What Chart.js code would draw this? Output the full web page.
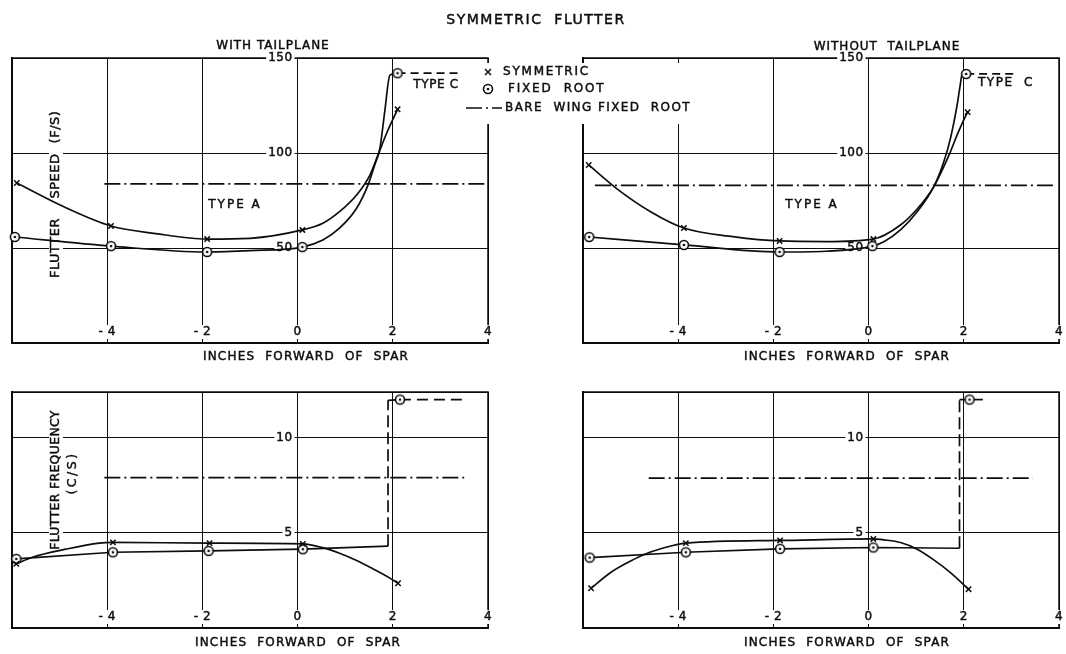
<!DOCTYPE html>
<html>
<head>
<meta charset="utf-8">
<script src="https://cdn.jsdelivr.net/npm/chart.js@4"></script>
<style>
  body { margin: 0; background: #fff; }
  #sheet { position: relative; width: 1066px; height: 654px; }
  #sheet canvas { position: absolute; left: 0; top: 0; }
</style>
</head>
<body>
<div id="sheet">
  <canvas id="speedWith" width="1066" height="654"></canvas>
  <canvas id="speedWithout" width="1066" height="654"></canvas>
  <canvas id="freqWith" width="1066" height="654"></canvas>
  <canvas id="freqWithout" width="1066" height="654"></canvas>
</div>
<script>
// tick labels
const xTickValues = [-4, -2, 0, 2, 4];
const speedTickValues = [50, 100, 150];
const freqTickValues = [5, 10];

// flutter speed (f/s), with tailplane
const spWithSymX = [-5.9, -3.92, -1.9, 0.1, 2.1];
const spWithSymV = [84.2, 61.6, 54.7, 59.5, 123];
const spWithSymCurveX = [-5.9, -4.92, -3.92, -2.98, -1.9, -1.0, 0.1, 0.53, 0.88, 1.24, 1.52, 1.69, 1.87, 2.1];
const spWithSymCurveV = [84.2, 71.8, 61.6, 57.6, 54.7, 55.1, 59.5, 63, 69.1, 77.9, 88.4, 99, 110.4, 123];
const spWithRootX = [-5.94, -3.92, -1.9, 0.1, 2.1];
const spWithRootV = [55.8, 51, 47.9, 50.5, 142];
const spWithRootCurveX = [-5.94, -3.92, -1.9, -1.0, 0.1, 0.53, 0.88, 1.24, 1.48, 1.62, 1.73, 1.83, 1.94, 2.1];
const spWithRootCurveV = [55.8, 51, 47.9, 48.6, 50.5, 54.2, 60.4, 70.9, 83.2, 93.7, 102.5, 121.7, 141, 142];
const spWithTypeCX = [2.1, 3.62];
const spWithTypeCV = [142, 142];
const spWithBareX = [-4.06, 4];
const spWithBareV = [83.7, 83.7];

// flutter speed (f/s), without tailplane
const spNoSymX = [-5.88, -3.88, -1.87, 0.1, 2.08];
const spNoSymV = [93.7, 60.5, 53.7, 54.7, 121.5];
const spNoSymCurveX = [-5.88, -5.3, -4.58, -3.88, -2.85, -1.87, -0.9, 0.1, 0.67, 1.02, 1.37, 1.58, 1.72, 1.86, 2.0, 2.08];
const spNoSymCurveV = [93.7, 81.4, 69.1, 60.5, 56, 53.7, 53.4, 54.7, 62.1, 70.5, 82.3, 92.8, 100.7, 109.5, 117.4, 121.5];
const spNoRootX = [-5.87, -3.88, -1.87, 0.08, 2.05];
const spNoRootV = [55.8, 51.6, 47.9, 51, 141.6];
const spNoRootCurveX = [-5.87, -3.88, -1.87, -0.9, 0.08, 0.32, 0.67, 1.02, 1.37, 1.58, 1.72, 1.86, 1.93, 1.96, 2.05];
const spNoRootCurveV = [55.8, 51.6, 47.9, 48.3, 51, 53.3, 59.5, 69.1, 82.3, 95.4, 107.7, 125.3, 136.7, 141, 141.6];
const spNoTypeCX = [2.05, 3.05];
const spNoTypeCV = [141.6, 141.6];
const spNoBareX = [-5.75, 3.9];
const spNoBareV = [83, 83];

// flutter frequency (c/s), with tailplane
const fqWithSymX = [-5.91, -3.88, -1.85, 0.11, 2.11];
const fqWithSymV = [3.37, 4.5, 4.46, 4.42, 2.35];
const fqWithSymCurveX = [-5.91, -5.57, -4.87, -4.17, -3.88, -1.85, 0.11, 0.53, 0.88, 1.24, 1.59, 1.94, 2.11];
const fqWithSymCurveV = [3.37, 3.72, 4.14, 4.46, 4.5, 4.46, 4.42, 4.22, 3.93, 3.55, 3.1, 2.62, 2.35];
const fqWithRootX = [-5.91, -3.88, -1.87, 0.11, 2.15];
const fqWithRootV = [3.63, 3.98, 4.05, 4.14, 12.0];
const fqWithRootLineX = [-5.91, -3.88, -1.87, 0.11, 1.9];
const fqWithRootLineV = [3.63, 3.98, 4.05, 4.14, 4.3];
const fqWithStepX = [1.9, 1.9];
const fqWithStepV = [4.3, 11.96];
const fqWithJoinX = [1.9, 2.15];
const fqWithJoinV = [11.96, 12.0];
const fqWithTypeCX = [2.15, 3.45];
const fqWithTypeCV = [12.0, 12.0];
const fqWithBareX = [-4.06, 3.5];
const fqWithBareV = [7.9, 7.9];

// flutter frequency (c/s), without tailplane
const fqNoSymX = [-5.83, -3.84, -1.86, 0.1, 2.1];
const fqNoSymV = [2.09, 4.46, 4.6, 4.68, 2.04];
const fqNoSymCurveX = [-5.83, -5.44, -5.09, -4.74, -4.33, -3.84, -1.86, 0.1, 0.32, 0.67, 1.02, 1.37, 1.72, 2.1];
const fqNoSymCurveV = [2.09, 2.88, 3.4, 3.84, 4.19, 4.46, 4.6, 4.68, 4.63, 4.49, 4.14, 3.58, 2.91, 2.04];
const fqNoRootX = [-5.86, -3.84, -1.86, 0.1, 2.12];
const fqNoRootV = [3.7, 3.98, 4.16, 4.23, 12.0];
const fqNoRootLineX = [-5.86, -3.84, -1.86, 0.1, 1.91];
const fqNoRootLineV = [3.7, 3.98, 4.16, 4.23, 4.19];
const fqNoStepX = [1.91, 1.91];
const fqNoStepV = [4.19, 12.0];
const fqNoTailX = [1.91, 2.12, 2.4];
const fqNoTailV = [12.0, 12.0, 12.0];
const fqNoBareX = [-4.62, 3.45];
const fqNoBareV = [7.88, 7.88];

const INK = '#0d0d0d';
const FONT = '"DejaVu Sans", sans-serif';
const PAGE_W = 1066, PAGE_H = 654;
const DASH_DOT = [16, 4, 2, 4];

// small circle with a centre dot, used for the fixed-root points
function makeRing() {
  const c = document.createElement('canvas');
  c.width = c.height = 14;
  const g = c.getContext('2d');
  g.fillStyle = '#fff';
  g.strokeStyle = INK;
  g.lineWidth = 1.6;
  g.beginPath(); g.arc(7, 7, 4.5, 0, Math.PI * 2); g.fill(); g.stroke();
  g.fillStyle = INK;
  g.beginPath(); g.arc(7, 7, 1.3, 0, Math.PI * 2); g.fill();
  return c;
}
const ring = makeRing();

function pts(xs, ys) {
  return xs.map((x, i) => ({ x: x, y: ys[i] }));
}

function crosses(xs, ys) {
  return { data: pts(xs, ys), showLine: false, pointStyle: 'crossRot', pointRadius: 3.8,
           borderColor: INK, pointBorderWidth: 1.5 };
}

function rings(xs, ys) {
  return { data: pts(xs, ys), showLine: false, pointStyle: ring, pointRadius: 6 };
}

function curve(xs, ys) {
  return { data: pts(xs, ys), showLine: true, pointRadius: 0, borderColor: INK, borderWidth: 1.7,
           cubicInterpolationMode: 'monotone' };
}

function straight(xs, ys, dash, width) {
  return { data: pts(xs, ys), showLine: true, pointRadius: 0, borderColor: INK,
           borderWidth: width || 1.7, borderDash: dash || [], tension: 0 };
}

function setText(ctx, size, spacing) {
  ctx.font = size + 'px ' + FONT;
  ctx.letterSpacing = (spacing || 0) + 'px';
  ctx.textBaseline = 'middle';
}

// lettering is thickened a little with a thin stroke, like pen lettering
function boxedText(ctx, text, x, y, align, boxed) {
  ctx.textAlign = align;
  if (boxed) {
    const w = ctx.measureText(text).width;
    const left = align === 'center' ? x - w / 2 : (align === 'right' ? x - w : x);
    ctx.fillStyle = '#fff';
    ctx.fillRect(left - 2, y - 7, w + 4, 14);
  }
  ctx.fillStyle = INK;
  ctx.strokeStyle = INK;
  ctx.lineWidth = 0.45;
  ctx.fillText(text, x, y);
  ctx.strokeText(text, x, y);
}

// frame, tick numbers written on the grid, and the panel's own lettering
function panelText(cfg) {
  return {
    id: 'panelText',
    beforeDatasetsDraw(chart) {
      const { ctx, chartArea: a, scales: { x, y } } = chart;
      ctx.save();
      ctx.strokeStyle = INK;
      ctx.lineWidth = 1.5;
      ctx.strokeRect(a.left, a.top, a.right - a.left, a.bottom - a.top);

      setText(ctx, 12, 0.5);
      xTickValues.forEach(v => {
        const t = v < 0 ? '- ' + Math.abs(v) : String(v);
        boxedText(ctx, t, x.getPixelForValue(v), a.bottom - 11, 'center', true);
      });
      cfg.yTicks.forEach(v => {
        boxedText(ctx, String(v), x.getPixelForValue(0) - 5, y.getPixelForValue(v), 'right', true);
      });

      cfg.notes.forEach(n => {
        setText(ctx, n.size || 12, n.spacing || 0);
        if (n.rotate) {
          ctx.save();
          ctx.translate(n.x, n.y);
          ctx.rotate(-Math.PI / 2);
          boxedText(ctx, n.text, 0, 0, 'center', true);
          ctx.restore();
        } else {
          boxedText(ctx, n.text, n.x, n.y, 'center', n.boxed);
        }
      });
      ctx.restore();
    }
  };
}

// sheet title and the key shared by the speed panels
const sheetText = {
  id: 'sheetText',
  afterDraw(chart) {
    const ctx = chart.ctx;
    ctx.save();
    setText(ctx, 14, 1.5);
    boxedText(ctx, 'SYMMETRIC  FLUTTER', 536, 20, 'center', false);

    ctx.fillStyle = '#fff';
    ctx.fillRect(461, 63, 229, 61);
    ctx.strokeStyle = INK;
    ctx.lineWidth = 1.5;
    ctx.beginPath();
    ctx.moveTo(485, 69); ctx.lineTo(491, 75);
    ctx.moveTo(491, 69); ctx.lineTo(485, 75);
    ctx.stroke();
    ctx.drawImage(ring, 488 - 7, 89 - 7);
    ctx.lineWidth = 1.7;
    ctx.setLineDash(DASH_DOT);
    ctx.beginPath(); ctx.moveTo(466, 108); ctx.lineTo(502, 108); ctx.stroke();
    ctx.setLineDash([]);

    setText(ctx, 12, 1.8);
    boxedText(ctx, 'SYMMETRIC', 503, 72, 'left', false);
    boxedText(ctx, 'FIXED  ROOT', 508, 89, 'left', false);
    setText(ctx, 12, 1.4);
    boxedText(ctx, 'BARE  WING FIXED  ROOT', 505, 108, 'left', false);
    ctx.restore();
  }
};

function makePanel(id, area, yMax, yStep, datasets, cfg, extra) {
  const gridOpts = { color: INK, lineWidth: 1, drawTicks: false };
  const borderOpts = { color: INK, width: 2 };
  return new Chart(document.getElementById(id), {
    type: 'scatter',
    data: { datasets: datasets.map(d => Object.assign({ clip: false }, d)) },
    options: {
      responsive: false,
      animation: false,
      events: [],
      layout: { padding: { left: area[0], top: area[1], right: PAGE_W - area[2], bottom: PAGE_H - area[3] } },
      plugins: { legend: { display: false }, tooltip: { enabled: false } },
      scales: {
        x: { type: 'linear', min: -6, max: 4, ticks: { display: false, stepSize: 2 }, grid: gridOpts, border: borderOpts },
        y: { type: 'linear', min: 0, max: yMax, ticks: { display: false, stepSize: yStep }, grid: gridOpts, border: borderOpts }
      }
    },
    plugins: [panelText(cfg)].concat(extra || [])
  });
}

const axisTitle = 'INCHES  FORWARD  OF  SPAR';

makePanel('speedWith', [12, 58, 488, 343], 150, 50, [
  crosses(spWithSymX, spWithSymV),
  rings(spWithRootX, spWithRootV),
  curve(spWithSymCurveX, spWithSymCurveV),
  curve(spWithRootCurveX, spWithRootCurveV),
  straight(spWithTypeCX, spWithTypeCV, [8, 5]),
  straight(spWithBareX, spWithBareV, DASH_DOT)
], {
  yTicks: speedTickValues,
  notes: [
    { text: 'WITH TAILPLANE', x: 273, y: 46, spacing: 1 },
    { text: axisTitle, x: 306, y: 357, spacing: 1.2 },
    { text: 'TYPE A', x: 235, y: 205, spacing: 2 },
    { text: 'TYPE C', x: 436, y: 85, spacing: 0.6 },
    { text: 'FLUTTER', x: 56, y: 248, size: 13, spacing: 0.5, rotate: true },
    { text: 'SPEED', x: 56, y: 176, size: 13, spacing: 0.5, rotate: true },
    { text: '(F/S)', x: 56, y: 127, size: 13, spacing: 0.5, rotate: true }
  ]
});

makePanel('speedWithout', [583, 58, 1060, 343], 150, 50, [
  crosses(spNoSymX, spNoSymV),
  rings(spNoRootX, spNoRootV),
  curve(spNoSymCurveX, spNoSymCurveV),
  curve(spNoRootCurveX, spNoRootCurveV),
  straight(spNoTypeCX, spNoTypeCV, [8, 5]),
  straight(spNoBareX, spNoBareV, DASH_DOT)
], {
  yTicks: speedTickValues,
  notes: [
    { text: 'WITHOUT  TAILPLANE', x: 887, y: 47, spacing: 1 },
    { text: axisTitle, x: 847, y: 357, spacing: 1.2 },
    { text: 'TYPE A', x: 812, y: 205, spacing: 2 },
    { text: 'TYPE  C', x: 1006, y: 83, spacing: 1.5 }
  ]
}, [sheetText]);

makePanel('freqWith', [12, 392, 488, 628], 12.4, 5, [
  crosses(fqWithSymX, fqWithSymV),
  rings(fqWithRootX, fqWithRootV),
  curve(fqWithSymCurveX, fqWithSymCurveV),
  straight(fqWithRootLineX, fqWithRootLineV),
  straight(fqWithStepX, fqWithStepV, [12, 5]),
  straight(fqWithJoinX, fqWithJoinV),
  straight(fqWithTypeCX, fqWithTypeCV, [11, 6]),
  straight(fqWithBareX, fqWithBareV, DASH_DOT)
], {
  yTicks: freqTickValues,
  notes: [
    { text: axisTitle, x: 298, y: 643, spacing: 1.2 },
    { text: 'FLUTTER FREQUENCY', x: 56, y: 480, size: 12.5, spacing: 0.3, rotate: true },
    { text: '(C/S)', x: 73, y: 473, size: 12.5, spacing: 2.5, rotate: true }
  ]
});

makePanel('freqWithout', [583, 392, 1060, 628], 12.4, 5, [
  crosses(fqNoSymX, fqNoSymV),
  rings(fqNoRootX, fqNoRootV),
  curve(fqNoSymCurveX, fqNoSymCurveV),
  straight(fqNoRootLineX, fqNoRootLineV),
  straight(fqNoStepX, fqNoStepV, [12, 5]),
  straight(fqNoTailX, fqNoTailV),
  straight(fqNoBareX, fqNoBareV, DASH_DOT)
], {
  yTicks: freqTickValues,
  notes: [
    { text: axisTitle, x: 847, y: 643, spacing: 1.2 }
  ]
});
</script>
</body>
</html>
